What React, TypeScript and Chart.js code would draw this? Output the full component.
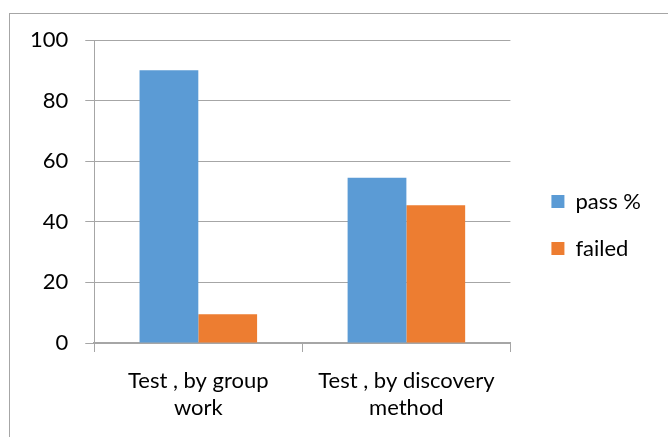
import React, { useEffect, useRef } from "react";
import { Chart, registerables } from "chart.js";

Chart.register(...registerables);

const categories: string[][] = [
  ["Test , by group", "work"],
  ["Test , by discovery", "method"],
];
const passValues = [90, 54.5];
const failedValues = [9.5, 45.5];
const seriesNames = ["pass %", "failed"];
const seriesColors = ["#5b9bd5", "#ed7d31"];
const yTicks = { min: 0, max: 100, step: 20 };

const FONT = "Lato, 'Open Sans', sans-serif";

const borderPlugin = {
  id: "outerBorder",
  beforeDraw(chart: any) {
    const ctx = chart.ctx;
    ctx.save();
    ctx.strokeStyle = "#a6a6a6";
    ctx.lineWidth = 1;
    ctx.strokeRect(9.5, 13.5, 700, 500);
    ctx.restore();
  },
};

const legendShift = {
  id: "legendShift",
  afterLayout(chart: any) {
    const lg = chart.legend;
    if (!lg) return;
    lg.left += 16;
    lg.right += 16;
    lg.top = 28;
    lg.bottom = 422;
  },
};

export default function App() {
  const ref = useRef<HTMLCanvasElement | null>(null);
  useEffect(() => {
    if (!ref.current) return;
    const chart = new Chart(ref.current, {
      type: "bar",
      data: {
        labels: categories,
        datasets: [
          {
            label: seriesNames[0],
            data: passValues,
            backgroundColor: seriesColors[0],
            borderWidth: 0,
            categoryPercentage: 0.565,
            barPercentage: 1,
          },
          {
            label: seriesNames[1],
            data: failedValues,
            backgroundColor: seriesColors[1],
            borderWidth: 0,
            categoryPercentage: 0.565,
            barPercentage: 1,
          },
        ],
      },
      options: {
        animation: false,
        responsive: false,
        maintainAspectRatio: false,
        layout: { padding: { left: 13, top: 40, right: 33, bottom: 0 } },
        plugins: {
          tooltip: { enabled: false },
          legend: {
            position: "right",
            align: "center",
            labels: {
              boxWidth: 13,
              boxHeight: 13,
              padding: 25,
              color: "#000",
              font: { family: FONT, size: 22 },
            },
          },
        },
        scales: {
          x: {
            grid: {
              display: true,
              offset: true,
              drawOnChartArea: false,
              drawTicks: true,
              tickLength: 9,
              color: "#a6a6a6",
            },
            border: { display: true, color: "#a6a6a6", width: 2 },
            ticks: {
              color: "#000",
              font: { family: FONT, size: 22, lineHeight: 1.25 },
              maxRotation: 0,
              padding: 15,
            },
          },
          y: {
            min: yTicks.min,
            max: yTicks.max,
            ticks: {
              stepSize: yTicks.step,
              color: "#000",
              font: { family: FONT, size: 22 },
              padding: 17,
            },
            grid: {
              color: "#a6a6a6",
              tickLength: 9,
              drawTicks: true,
            },
            border: { display: true, color: "#a6a6a6" },
          },
        },
      } as any,
      plugins: [borderPlugin, legendShift],
    });
    return () => chart.destroy();
  }, []);
  return (
    <div style={{ position: "fixed", left: 0, top: 0, width: 668, height: 437, background: "#fff" }}>
      <canvas ref={ref} width={668} height={437} style={{ display: "block" }} />
    </div>
  );
}
